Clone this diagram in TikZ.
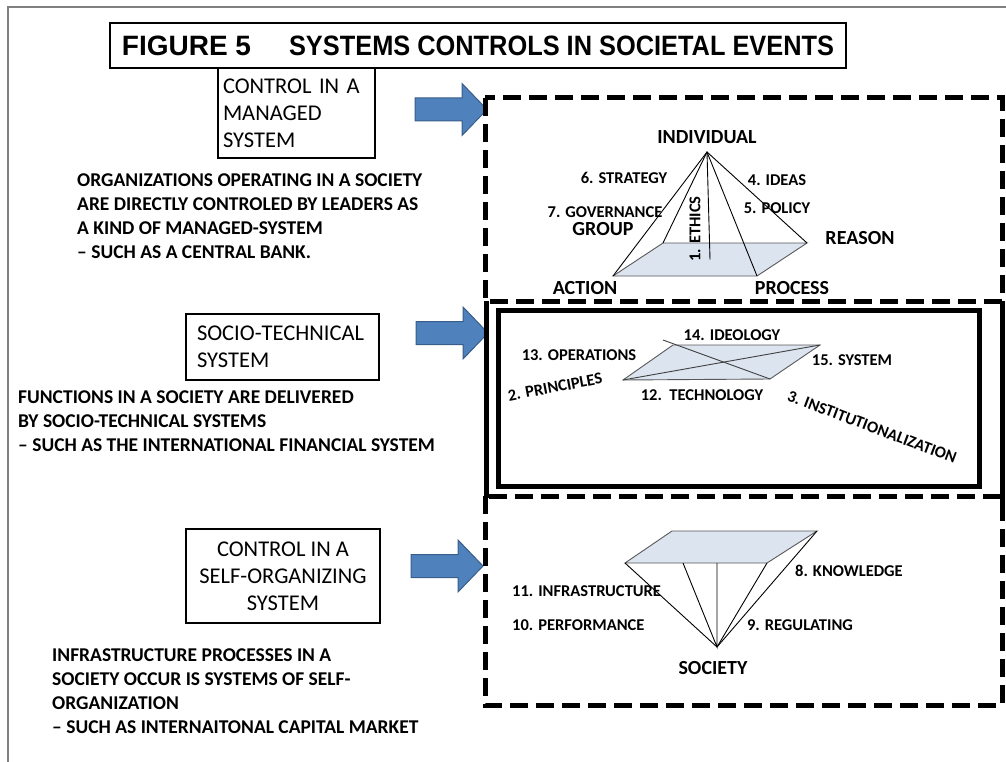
\documentclass[tikz,border=0pt]{standalone}
\usepackage{graphicx}
\usepackage{fontspec}
\setmainfont{Carlito}
\newfontfamily\titlefont{Liberation Sans}

\definecolor{basefill}{RGB}{220,228,240}
\definecolor{arrowblue}{RGB}{79,129,189}
\definecolor{arrowedge}{RGB}{56,93,138}

\tikzset{
  dashbox/.style={line width=5pt, dash pattern=on 18pt off 8pt},
  heavybox/.style={line width=5pt},
  labelbox/.style={draw, line width=2pt, inner sep=0pt, font=\fontsize{22.5}{27}\selectfont},
  notetext/.style={font=\bfseries\fontsize{19.5}{24}\selectfont, align=left, anchor=north west, inner sep=0pt},
  minorlabel/.style={font=\bfseries\fontsize{16.5}{18}\selectfont, inner sep=0pt},
  majorlabel/.style={font=\bfseries\fontsize{20}{22}\selectfont, inner sep=0pt},
  pyrline/.style={line width=0.9pt},
  blockarrow/.style={fill=arrowblue, draw=arrowedge, line width=1pt},
}

\begin{document}
\begin{tikzpicture}[x=1pt, y=-1pt]
\useasboundingbox (0,0) rectangle (1006,762);

\draw[gray, line width=1.5pt] (8,762) -- (8,7) -- (1006,7);

\node[draw, line width=1.5pt, minimum width=736pt, minimum height=45pt, inner sep=0pt]
    (title) at (478,45.5)
    {\titlefont\bfseries\fontsize{28}{30}\selectfont FIGURE 5\hspace{38pt}%
     \scalebox{0.906}[1]{SYSTEMS CONTROLS IN SOCIETAL EVENTS}\hspace{23pt}};

% system types on the left
\node[labelbox, minimum width=157pt, minimum height=90pt, text width=147pt, align=left]
    (managed) at (296.5,113) {CONTROL IN A\\MANAGED\\SYSTEM};
\node[labelbox, minimum width=193pt, minimum height=66pt, text width=171pt, align=left]
    (sociotech) at (282.5,347) {SOCIO-TECHNICAL\\SYSTEM};
\node[labelbox, minimum width=194pt, minimum height=94pt, align=center]
    (selforg) at (283,576) {CONTROL IN A\\SELF-ORGANIZING\\SYSTEM};

\node[notetext] (managednote) at (77,174)
    {ORGANIZATIONS OPERATING IN A SOCIETY\\ARE DIRECTLY CONTROLED BY LEADERS AS\\A KIND OF MANAGED-SYSTEM\\– SUCH AS A CENTRAL BANK.};
\node[notetext] (sociotechnote) at (18,391)
    {FUNCTIONS IN A SOCIETY ARE DELIVERED\\BY SOCIO-TECHNICAL SYSTEMS\\– SUCH AS THE INTERNATIONAL FINANCIAL SYSTEM};
\node[notetext] (selforgnote) at (52,649)
    {INFRASTRUCTURE PROCESSES IN A\\SOCIETY OCCUR IS SYSTEMS OF SELF-\\ORGANIZATION\\– SUCH AS INTERNAITONAL CAPITAL MARKET};

\foreach \tipx/\tipy in {487/109.5, 488/333, 483/566}
  \draw[blockarrow] (\tipx,\tipy) -- ++(-25,-26) -- ++(0,14.5) -- ++(-47,0)
    -- ++(0,23) -- ++(47,0) -- ++(0,14.5) -- cycle;

% frames on the right
\draw[dashbox] (485,98) rectangle (1002,301);
\draw[heavybox] (486,301) -- (486,498);
\draw[heavybox] (1002,301) -- (1002,508);
\draw[dashbox] (485,496) rectangle (1002,705);
\draw[heavybox] (498,310) rectangle (979,486);

% managed system: upright pyramid
\coordinate (I) at (707,152);
\coordinate (IBL) at (663,243);
\coordinate (IBR) at (807,243);
\coordinate (IFR) at (757,276);
\coordinate (IFL) at (613,276);
\coordinate (IC) at (710,259.5);
\fill[basefill] (IFL) -- (IBL) -- (IBR) -- (IFR) -- cycle;
\draw[pyrline, gray!70!black] (IFL) -- (IBL) -- (IBR) -- (IFR) -- cycle;
\draw[pyrline] (IFL) -- (I) -- (IFR);
\draw[pyrline] (IBL) -- (I) -- (IBR);
\draw[pyrline] (I) -- (IC);

\node[majorlabel] (individual) at (707,137) {INDIVIDUAL};
\node[majorlabel] (group) at (603,229) {GROUP};
\node[majorlabel] (reason) at (860,238) {REASON};
\node[majorlabel] (action) at (585,288) {ACTION};
\node[majorlabel] (process) at (792,288) {PROCESS};
\node[minorlabel] (strategy) at (624,178) {6. STRATEGY};
\node[minorlabel] (ideas) at (777,180) {4. IDEAS};
\node[minorlabel] (governance) at (605,212) {7. GOVERNANCE};
\node[minorlabel] (policy) at (777,208) {5. POLICY};
\node[minorlabel, rotate=90] (ethics) at (695,229) {1. ETHICS};

% socio-technical system: flat plane
\coordinate (PL) at (623,380);
\coordinate (PTL) at (673,345);
\coordinate (PTR) at (820,345);
\coordinate (PBR) at (770,379);
\coordinate (PX) at (663,340);
\fill[basefill] (PL) -- (PTL) -- (PTR) -- (PBR) -- cycle;
\draw[pyrline, gray!70!black] (PL) -- (PTL) -- (PTR) -- (PBR) -- cycle;
\draw[pyrline, gray!50!black] (PL) -- (PTR);
\draw[pyrline, gray!50!black] (PX) -- (PBR);

\node[minorlabel] (ideology) at (732,335) {14. IDEOLOGY};
\node[minorlabel] (operations) at (579,355) {13. OPERATIONS};
\node[minorlabel] (system) at (852,360) {15. SYSTEM};
\node[minorlabel] (technology) at (702,395) {12.\ \ TECHNOLOGY};
\node[minorlabel, rotate=10.7] (principles) at (555,387) {2. PRINCIPLES};
\node[minorlabel, rotate=-20.7] (institution) at (872,427) {3. INSTITUTIONALIZATION};

% self-organizing system: inverted pyramid
\coordinate (S) at (717,647);
\coordinate (SBL) at (672,531);
\coordinate (SBR) at (817,531);
\coordinate (SFR) at (767,563);
\coordinate (SFL) at (625,563);
\fill[basefill] (SFL) -- (SBL) -- (SBR) -- (SFR) -- cycle;
\draw[pyrline, gray!70!black] (SFL) -- (SBL) -- (SBR) -- (SFR) -- cycle;
\draw[pyrline] (SFL) -- (S) -- (SFR);
\draw[pyrline] (683,563) -- (S) -- (717,563);
\draw[pyrline] (S) -- (SBR);

\node[majorlabel] (society) at (713,668) {SOCIETY};
\node[minorlabel] (knowledge) at (849,571) {8. KNOWLEDGE};
\node[minorlabel, anchor=west] (infrastructure) at (512,591) {11. INFRASTRUCTURE};
\node[minorlabel, anchor=west] (performance) at (512,625) {10. PERFORMANCE};
\node[minorlabel] (regulating) at (800,625) {9. REGULATING};

\end{tikzpicture}
\end{document}
